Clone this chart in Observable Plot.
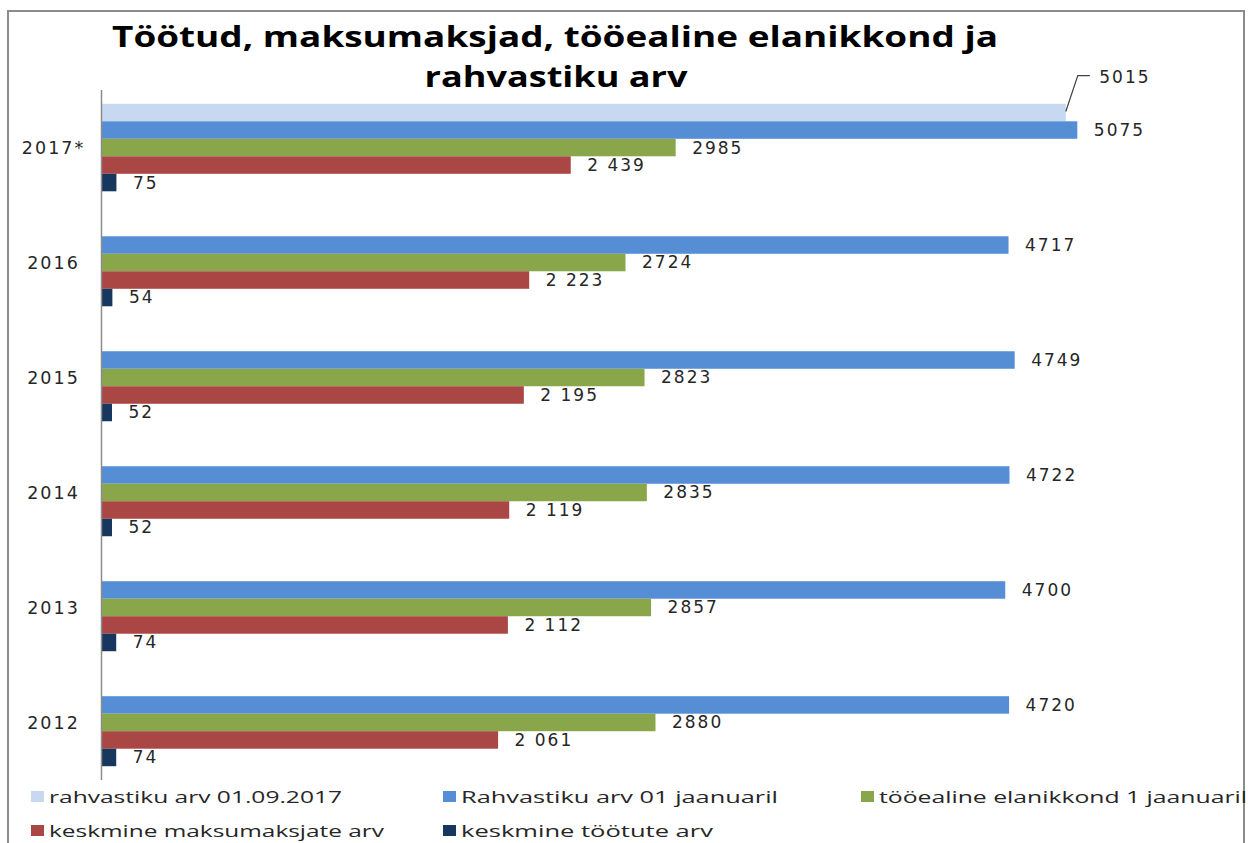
<!DOCTYPE html>
<html>
<head>
<meta charset="utf-8">
<script src="https://cdn.jsdelivr.net/npm/d3@7"></script>
<script src="https://cdn.jsdelivr.net/npm/@observablehq/plot@0.6"></script>
<style>
  html, body { margin: 0; padding: 0; background: #fff; width: 1248px; height: 843px; overflow: hidden; }
  #frame { position: absolute; left: 7px; top: 10px; width: 1238px; height: 900px; border: 2px solid #8c8c8c; box-sizing: border-box; }
  #title { position: absolute; left: 0; top: 0; }
  #chart { position: absolute; left: 0; top: 90px; }
  #legend { position: absolute; left: 0; top: 780px; }
</style>
</head>
<body>
<div id="frame"></div>
<svg id="title" width="1248" height="100"></svg>
<div id="chart"></div>
<svg id="legend" width="1248" height="63"></svg>
<script>
// ---- data ----
const titleLines = ["Töötud, maksumaksjad, tööealine elanikkond ja", "rahvastiku arv"];
const years = ["2017*", "2016", "2015", "2014", "2013", "2012"];
const seriesNames = [
  "rahvastiku arv 01.09.2017",
  "Rahvastiku arv 01 jaanuaril",
  "tööealine elanikkond 1 jaanuaril",
  "keskmine maksumaksjate arv",
  "keskmine töötute arv"
];
const seriesColors = ["#c6d9f1", "#558ed5", "#8aa64b", "#aa4644", "#17375e"];
const popSept = [5015, null, null, null, null, null];
const popJan = [5075, 4717, 4749, 4722, 4700, 4720];
const workingAge = [2985, 2724, 2823, 2835, 2857, 2880];
const taxpayers = [2439, 2223, 2195, 2119, 2112, 2061];
const unemployed = [75, 54, 52, 52, 74, 74];

// ---- table ----
const seriesValues = [popSept, popJan, workingAge, taxpayers, unemployed];
const rows = [];
years.forEach((year, i) => {
  seriesNames.forEach((s, k) => {
    const v = seriesValues[k][i];
    if (v != null) rows.push({year, series: s, value: v});
  });
});
const fmtSpace = d3.formatLocale({decimal: ",", thousands: " ", grouping: [3], currency: ["", ""]}).format(",d");
const label = d => d.series === seriesNames[3] ? fmtSpace(d.value) : String(d.value);

// ---- title ----
const tsvg = d3.select("#title");
const titleSpecs = [{x: 555, y: 47, len: 886}, {x: 556, y: 87, len: 263}];
titleLines.forEach((t, i) => {
  tsvg.append("text")
    .attr("x", titleSpecs[i].x).attr("y", titleSpecs[i].y)
    .attr("text-anchor", "middle")
    .attr("font-family", "'Open Sans', 'DejaVu Sans', sans-serif")
    .attr("font-weight", "bold").attr("font-size", 29)
    .attr("textLength", titleSpecs[i].len).attr("lengthAdjust", "spacingAndGlyphs")
    .attr("fill", "#000")
    .text(t);
});

// ---- chart ----
const chart = Plot.plot({
  width: 1248,
  height: 690,
  marginLeft: 102,
  marginRight: 89,
  marginTop: 0,
  marginBottom: 0,
  style: "font-family: 'DejaVu Sans', sans-serif; font-size: 17px; letter-spacing: 2px; overflow: visible; background: transparent;",
  x: {domain: [0, 5500], axis: null},
  y: {domain: seriesNames, padding: 0, round: false, axis: null},
  fy: {domain: years, paddingInner: 0.239, paddingOuter: 0.12, round: false, axis: null},
  color: {domain: seriesNames, range: seriesColors},
  facet: {data: rows, y: "year"},
  marks: [
    Plot.barX(rows, {x: "value", y: "series", fill: "series"}),
    Plot.text(rows, {
      filter: d => d.series !== seriesNames[0],
      x: "value", y: "series", text: label,
      textAnchor: "start", dx: 16, fill: "#262626", fontSize: 17
    }),
    Plot.text(rows, {
      filter: d => d.series === seriesNames[0],
      x: "value", y: "series", text: label,
      textAnchor: "start", dx: 33, dy: -36, fill: "#262626", fontSize: 17
    }),
    Plot.text(rows, {
      filter: d => d.series === seriesNames[4],
      text: "year", frameAnchor: "left", dx: -49,
      textAnchor: "middle", fill: "#262626", fontSize: 17.5
    })
  ]
});
document.getElementById("chart").appendChild(chart);

// axis line (continuous across facets) at x = 0
const svgSel = d3.select(chart);
const x0 = chart.scale("x").apply(0);
svgSel.append("line")
  .attr("x1", x0 - 0.5).attr("x2", x0 - 0.5)
  .attr("y1", 0).attr("y2", 690)
  .attr("stroke", "#8c8c8c").attr("stroke-width", 1.5);

// leader line for the 01.09.2017 label
const sb = chart.getBoundingClientRect();
const lightRect = Array.from(chart.querySelectorAll("rect"))
  .find(r => (r.getAttribute("fill") || "").toLowerCase() === seriesColors[0]);
if (lightRect) {
  const rb = lightRect.getBoundingClientRect();
  const ex = rb.right - sb.left, ey = rb.top + rb.height / 2 - sb.top;
  svgSel.append("path")
    .attr("d", `M${ex},${ey - 1}L${ex + 12},${ey - 37}L${ex + 24},${ey - 37}`)
    .attr("fill", "none").attr("stroke", "#404040").attr("stroke-width", 1.2);
}

// ---- legend ----
const lsvg = d3.select("#legend");
const legendSpecs = [
  {x: 31, y: 23, len: 293},
  {x: 443, y: 23, len: 317},
  {x: 861, y: 23, len: 368},
  {x: 31, y: 57, len: 335},
  {x: 443, y: 57, len: 252}
];
seriesNames.forEach((s, i) => {
  const sp = legendSpecs[i];
  lsvg.append("rect").attr("x", sp.x).attr("y", sp.y - 12).attr("width", 13).attr("height", 11)
    .attr("fill", seriesColors[i]);
  lsvg.append("text").attr("x", sp.x + 18).attr("y", sp.y)
    .attr("font-family", "'Open Sans', 'DejaVu Sans', sans-serif").attr("font-size", 17)
    .attr("fill", "#262626")
    .attr("textLength", sp.len).attr("lengthAdjust", "spacingAndGlyphs")
    .text(s);
});
</script>
</body>
</html>
